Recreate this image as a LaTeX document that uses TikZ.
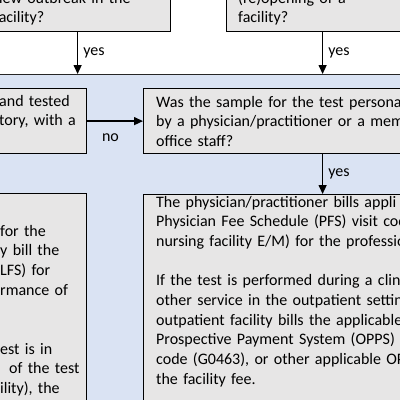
\documentclass[tikz,border=0pt]{standalone}
\usepackage{fontspec}
\setmainfont{Carlito}
\usetikzlibrary{arrows.meta, calc}
\definecolor{boxgray}{RGB}{231,230,230}
\definecolor{panelblue}{RGB}{218,227,243}

\begin{document}
\begin{tikzpicture}[x=1pt, y=-1pt, >={Triangle[length=9pt, width=8pt]},
    font=\fontsize{16}{19.7}\selectfont,
    qbox/.style={draw=black, line width=1.2pt, fill=boxgray, inner sep=0pt},
    panel/.style={draw=black!85, line width=0.8pt, fill=panelblue, inner sep=0pt},
    btext/.style={anchor=base west, inner sep=0pt, text width=420pt, align=left},
    signal/.style={->, line width=1.4pt},
    tlab/.style={inner sep=2pt, text=black},
]
    \useasboundingbox (0,0) rectangle (400,400);
    \clip (0,0) rectangle (400,400);

    % --- preguntas de arriba ---
    \node[qbox, anchor=south west, minimum width=186pt, minimum height=100pt] (qA) at (-16,32) {};
    \node[qbox, anchor=south west, minimum width=192pt, minimum height=100pt] (qB) at (226,32) {};
    \node[btext] (qAt) at (-6,3) {new outbreak in the\\facility?};
    \node[btext] (qBt) at (238,3) {(re)opening of a\\facility?};

    % --- zona azul ---
    \node[panel, anchor=north west, minimum width=440pt, minimum height=350pt] (panel) at (-20,74) {};

    \node[qbox, anchor=north east, minimum width=240pt, minimum height=65pt] (B1) at (87,88) {};
    \node[qbox, anchor=north west, minimum width=358pt, minimum height=65pt] (B2) at (143,88) {};
    \node[qbox, anchor=north east, minimum width=240pt, minimum height=240pt] (B4) at (87,193) {};
    \node[qbox, anchor=north west, minimum width=358pt, minimum height=240pt] (B3) at (143,194) {};

    \node[btext] (B1t) at (-1,106) {and tested\\tory, with a};
    \node[btext] (B2t) at (156,107) {Was the sample for the test persona\\
        by a physician/practitioner or a mem\\office staff?};
    \node[btext] (B3t) at (156,207) {The physician/practitioner bills appli\\
        Physician Fee Schedule (PFS) visit cod\\
        nursing facility E/M) for the professio\\[\baselineskip]
        If the test is performed during a clini\\
        other service in the outpatient settin\\
        outpatient facility bills the applicable\\
        Prospective Payment System (OPPS)\\
        code (G0463), or other applicable OP\\
        the facility fee.};
    \node[btext] (B4t) at (0,236) {for the\\y bill the\\LFS) for\\rmance of\\[2\baselineskip]
        est is in\\\hspace*{9pt}of the test\\ility), the};

    % --- flechas ---
    \draw[signal] (qA.south) -- (qA.south |- panel.north)
        node[tlab, midway, right, xshift=3pt] {yes};
    \draw[signal] (qB.south) -- (qB.south |- panel.north)
        node[tlab, midway, right, xshift=3pt] {yes};
    \draw[signal] (B1.east) -- (B2.west)
        node[tlab, pos=0.42, below=10pt] {no};
    \draw[signal] (B2.south) -- (B3.north)
        node[tlab, midway, right, xshift=3pt] {yes};

\end{tikzpicture}
\end{document}
